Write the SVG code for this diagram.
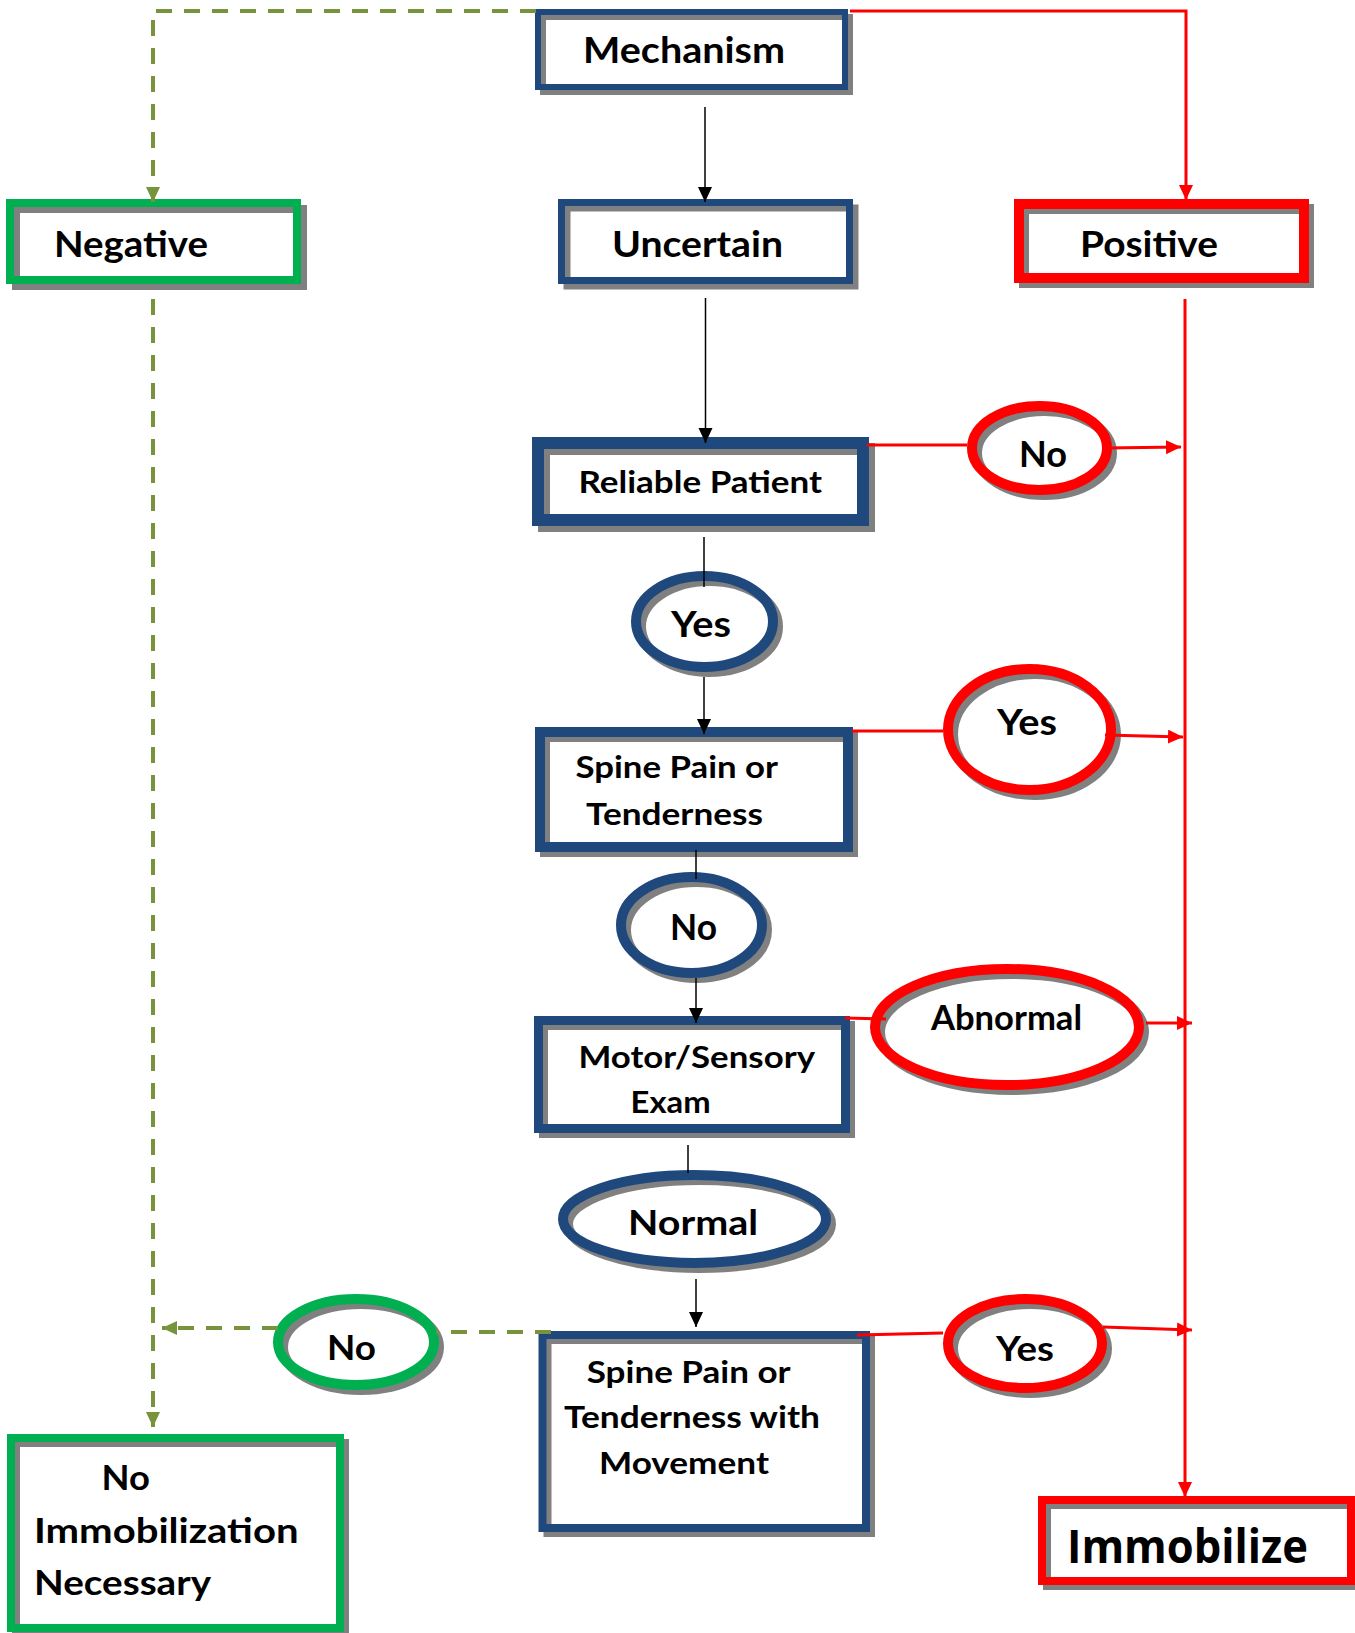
<svg xmlns="http://www.w3.org/2000/svg" width="1355" height="1633" viewBox="0 0 1355 1633">
<defs>
<style>
.bg{fill:#ffffff;stroke:none}
.sh{fill:none;stroke:#808080}
.bl{fill:none;stroke:#1F497D}
.rd{fill:none;stroke:#FF0000}
.gr{fill:none;stroke:#00B050}
text{font-family:Lato,"Liberation Sans",sans-serif;font-weight:700;fill:#000}
.big{font-family:"Open Sans","Liberation Sans",sans-serif}
.cb{fill:none;stroke:#000;stroke-width:1.5}
.cr{fill:none;stroke:#FF0000;stroke-width:3}
.cg{fill:none;stroke:#77933C;stroke-width:4;stroke-dasharray:16 12}
</style>
<marker id="ab" markerUnits="userSpaceOnUse" markerWidth="16" markerHeight="16" refX="15" refY="7" orient="auto"><path d="M0,0 L15,7 L0,14 z" fill="#000"/></marker>
<marker id="ar" markerUnits="userSpaceOnUse" markerWidth="16" markerHeight="16" refX="15" refY="7" orient="auto"><path d="M0,0 L15,7 L0,14 z" fill="#FF0000"/></marker>
<marker id="ag" markerUnits="userSpaceOnUse" markerWidth="16" markerHeight="16" refX="15" refY="7" orient="auto"><path d="M0,0 L15,7 L0,14 z" fill="#77933C"/></marker>
</defs>
<rect x="0" y="0" width="1355" height="1633" fill="#ffffff"/>

<g id="mechanism">
<rect class="bg" x="538" y="12" width="307" height="75"/>
<rect class="sh" x="543" y="17" width="307" height="75" stroke-width="6"/>
<rect class="bl" x="538" y="12" width="307" height="75" stroke-width="6"/>
<text x="583" y="63" font-size="36" textLength="202" lengthAdjust="spacingAndGlyphs">Mechanism</text>
</g>

<g id="negative">
<rect class="bg" x="10" y="203" width="287" height="77"/>
<rect class="sh" x="16" y="209" width="287" height="77" stroke-width="8"/>
<rect class="gr" x="10" y="203" width="287" height="77" stroke-width="8"/>
<text x="54" y="257" font-size="37" textLength="154" lengthAdjust="spacingAndGlyphs">Negative</text>
</g>

<g id="uncertain">
<rect class="bg" x="561.5" y="202.5" width="288" height="78"/>
<rect class="sh" x="567" y="208" width="288" height="78" stroke-width="7"/>
<rect class="bl" x="561.5" y="202.5" width="288" height="78" stroke-width="7"/>
<text x="612" y="257" font-size="37" textLength="171" lengthAdjust="spacingAndGlyphs">Uncertain</text>
</g>

<g id="positive">
<rect class="bg" x="1019" y="204" width="285" height="74"/>
<rect class="sh" x="1024" y="209" width="285" height="74" stroke-width="10"/>
<rect class="rd" x="1019" y="204" width="285" height="74" stroke-width="10"/>
<text x="1080" y="257" font-size="37" textLength="138" lengthAdjust="spacingAndGlyphs">Positive</text>
</g>

<g id="reliable-patient">
<rect class="bg" x="538" y="443" width="325" height="77"/>
<rect class="sh" x="544" y="449" width="325" height="77" stroke-width="12"/>
<rect class="bl" x="538" y="443" width="325" height="77" stroke-width="12"/>
<text x="578.5" y="493" font-size="31" textLength="243.5" lengthAdjust="spacingAndGlyphs">Reliable Patient</text>
</g>

<g id="no-reliable">
<ellipse class="bg" cx="1039.5" cy="448" rx="67.5" ry="42"/>
<ellipse class="sh" cx="1044.5" cy="453" rx="67.5" ry="42" stroke-width="10"/>
<ellipse class="rd" cx="1039.5" cy="448" rx="67.5" ry="42" stroke-width="10"/>
<text x="1019" y="467" font-size="36" textLength="48" lengthAdjust="spacingAndGlyphs">No</text>
</g>

<g id="yes-reliable">
<ellipse class="bg" cx="704.5" cy="621.5" rx="68.5" ry="45.5"/>
<ellipse class="sh" cx="709.5" cy="626.5" rx="68.5" ry="45.5" stroke-width="10"/>
<ellipse class="bl" cx="704.5" cy="621.5" rx="68.5" ry="45.5" stroke-width="10"/>
<text x="671" y="637" font-size="37" textLength="60" lengthAdjust="spacingAndGlyphs">Yes</text>
</g>

<g id="spine-pain">
<rect class="bg" x="540" y="732" width="308" height="115"/>
<rect class="sh" x="545" y="737" width="308" height="115" stroke-width="10"/>
<rect class="bl" x="540" y="732" width="308" height="115" stroke-width="10"/>
<text x="575.5" y="778" font-size="30" textLength="202.5" lengthAdjust="spacingAndGlyphs">Spine Pain or</text>
<text x="586" y="825" font-size="30" textLength="177" lengthAdjust="spacingAndGlyphs">Tenderness</text>
</g>

<g id="yes-spine">
<ellipse class="bg" cx="1029.5" cy="729.5" rx="81.5" ry="60.5"/>
<ellipse class="sh" cx="1034.5" cy="734.5" rx="81.5" ry="60.5" stroke-width="10"/>
<ellipse class="rd" cx="1029.5" cy="729.5" rx="81.5" ry="60.5" stroke-width="10"/>
<text x="997" y="735" font-size="37" textLength="60" lengthAdjust="spacingAndGlyphs">Yes</text>
</g>

<g id="no-spine">
<ellipse class="bg" cx="691.5" cy="925" rx="70.5" ry="48"/>
<ellipse class="sh" cx="696.5" cy="930" rx="70.5" ry="48" stroke-width="10"/>
<ellipse class="bl" cx="691.5" cy="925" rx="70.5" ry="48" stroke-width="10"/>
<text x="670" y="940" font-size="37" textLength="47" lengthAdjust="spacingAndGlyphs">No</text>
</g>

<g id="motor-sensory">
<rect class="bg" x="538.5" y="1020.5" width="307" height="108"/>
<rect class="sh" x="543.5" y="1025.5" width="307" height="108" stroke-width="9"/>
<rect class="bl" x="538.5" y="1020.5" width="307" height="108" stroke-width="9"/>
<text x="578.5" y="1068" font-size="30" textLength="236.5" lengthAdjust="spacingAndGlyphs">Motor/Sensory</text>
<text x="630.6" y="1113" font-size="30" textLength="80" lengthAdjust="spacingAndGlyphs">Exam</text>
</g>

<g id="abnormal">
<ellipse class="bg" cx="1007" cy="1027" rx="132" ry="58"/>
<ellipse class="sh" cx="1012" cy="1032" rx="132" ry="58" stroke-width="10"/>
<ellipse class="rd" cx="1007" cy="1027" rx="132" ry="58" stroke-width="10"/>
<text x="931" y="1030" font-size="34" textLength="151" lengthAdjust="spacingAndGlyphs">Abnormal</text>
</g>

<g id="normal">
<ellipse class="bg" cx="694.5" cy="1219" rx="131.5" ry="44"/>
<ellipse class="sh" cx="699.5" cy="1224" rx="131.5" ry="44" stroke-width="10"/>
<ellipse class="bl" cx="694.5" cy="1219" rx="131.5" ry="44" stroke-width="10"/>
<text x="628" y="1235" font-size="35" textLength="130" lengthAdjust="spacingAndGlyphs">Normal</text>
</g>

<g id="spine-pain-movement">
<rect class="bg" x="542.5" y="1335" width="323.5" height="193"/>
<rect class="sh" x="547.5" y="1340" width="323.5" height="193" stroke-width="8"/>
<rect class="bl" x="542.5" y="1335" width="323.5" height="193" stroke-width="8"/>
<text x="586.7" y="1383" font-size="30" textLength="204" lengthAdjust="spacingAndGlyphs">Spine Pain or</text>
<text x="564" y="1428" font-size="30" textLength="256" lengthAdjust="spacingAndGlyphs">Tenderness with</text>
<text x="599" y="1474" font-size="30" textLength="170" lengthAdjust="spacingAndGlyphs">Movement</text>
</g>

<g id="no-movement">
<ellipse class="bg" cx="356" cy="1342" rx="78" ry="43"/>
<ellipse class="sh" cx="361" cy="1347" rx="78" ry="43" stroke-width="10"/>
<ellipse class="gr" cx="356" cy="1342" rx="78" ry="43" stroke-width="10"/>
<text x="327" y="1360" font-size="35" textLength="49" lengthAdjust="spacingAndGlyphs">No</text>
</g>

<g id="yes-movement">
<ellipse class="bg" cx="1025" cy="1343.5" rx="77" ry="44.5"/>
<ellipse class="sh" cx="1030" cy="1348.5" rx="77" ry="44.5" stroke-width="10"/>
<ellipse class="rd" cx="1025" cy="1343.5" rx="77" ry="44.5" stroke-width="10"/>
<text x="996" y="1361" font-size="34" textLength="58" lengthAdjust="spacingAndGlyphs">Yes</text>
</g>

<g id="no-immobilization">
<rect class="bg" x="11" y="1438" width="329" height="190"/>
<rect class="sh" x="16" y="1443" width="329" height="190" stroke-width="8"/>
<rect class="gr" x="11" y="1438" width="329" height="190" stroke-width="8"/>
<text x="101.6" y="1490" font-size="35" textLength="48.4" lengthAdjust="spacingAndGlyphs">No</text>
<text x="34" y="1543" font-size="35" textLength="264.5" lengthAdjust="spacingAndGlyphs">Immobilization</text>
<text x="34" y="1595" font-size="35" textLength="177" lengthAdjust="spacingAndGlyphs">Necessary</text>
</g>

<g id="immobilize">
<rect class="bg" x="1042" y="1500" width="309" height="81"/>
<rect class="sh" x="1047" y="1505" width="309" height="81" stroke-width="8"/>
<rect class="rd" x="1042" y="1500" width="309" height="81" stroke-width="8"/>
<text class="big" x="1067" y="1563" font-size="46" textLength="241" lengthAdjust="spacingAndGlyphs">Immobilize</text>
</g>

<g id="connectors">
<path class="cg" d="M536 11 H153 V202" marker-end="url(#ag)"/>
<path class="cb" d="M705 107 V202" marker-end="url(#ab)"/>
<path class="cr" d="M850 11 H1186 V200" marker-end="url(#ar)"/>
<path class="cb" d="M705.5 298 V443" marker-end="url(#ab)"/>
<path class="cr" d="M867 445 H967"/>
<path class="cr" d="M1105 448 L1181 447" marker-end="url(#ar)"/>
<path class="cr" d="M1185 299 V1497" marker-end="url(#ar)"/>
<path class="cb" d="M704 537 V587"/>
<path class="cb" d="M704 677 V734" marker-end="url(#ab)"/>
<path class="cr" d="M852 731 H943"/>
<path class="cr" d="M1105 735 L1183 737" marker-end="url(#ar)"/>
<path class="cb" d="M696 850 V879"/>
<path class="cb" d="M696 978 V1023" marker-end="url(#ab)"/>
<path class="cr" d="M845 1018 L886 1019"/>
<path class="cr" d="M1146 1023 L1192 1023" marker-end="url(#ar)"/>
<path class="cb" d="M688 1145 V1173"/>
<path class="cb" d="M696 1279 V1327" marker-end="url(#ab)"/>
<path class="cg" d="M551 1332 H436"/>
<path class="cg" d="M278 1328 H162" marker-end="url(#ag)"/>
<path class="cg" d="M153 299 V1427" marker-end="url(#ag)"/>
<path class="cr" d="M857 1335 L943 1333"/>
<path class="cr" d="M1103 1327 L1192 1330" marker-end="url(#ar)"/>
</g>
</svg>
